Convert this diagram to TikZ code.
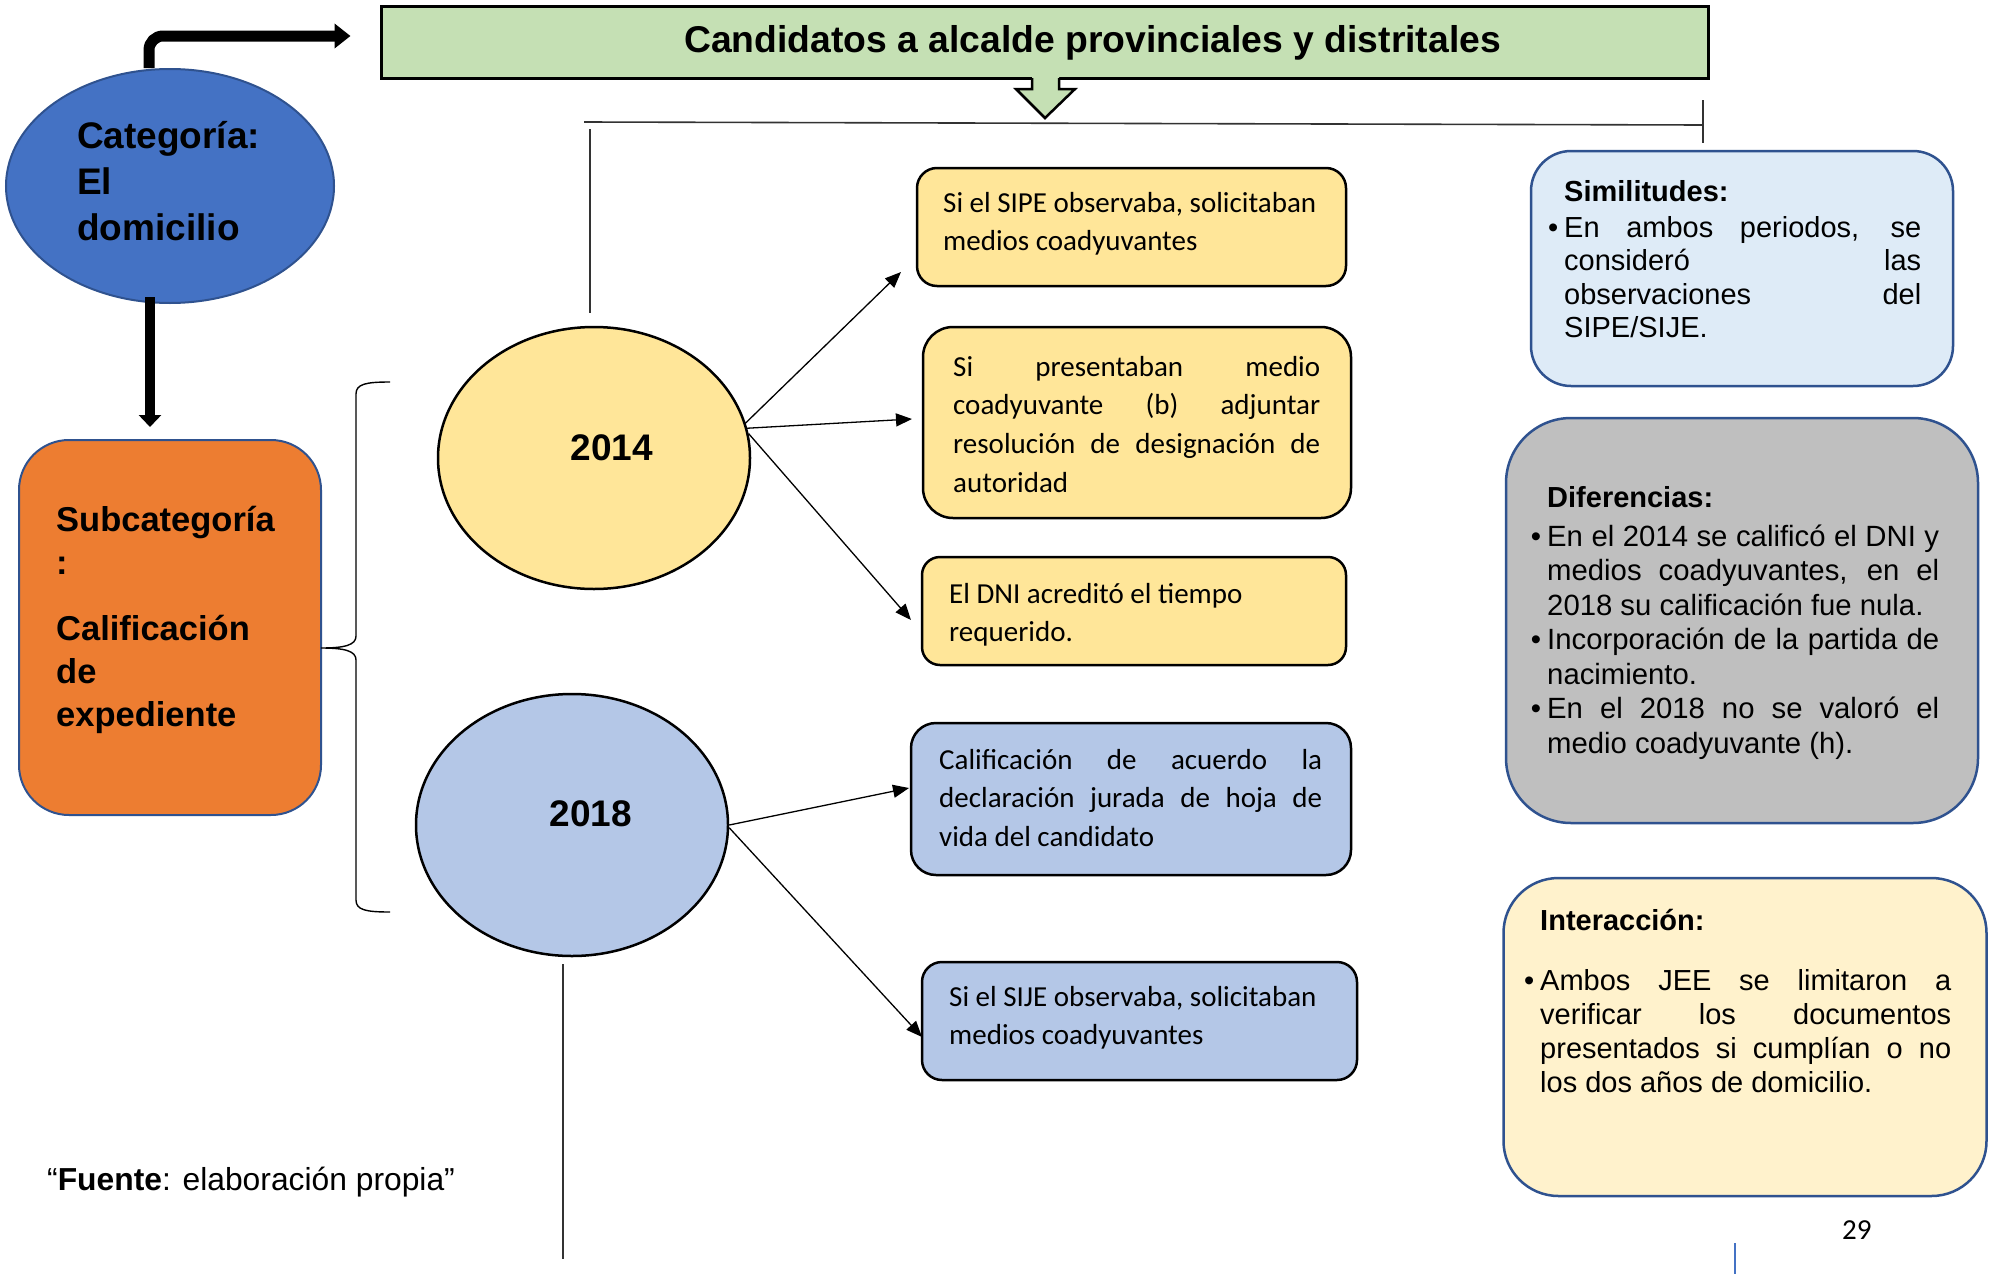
\documentclass[tikz,border=0pt]{standalone}
\usepackage{fontspec}
\setmainfont{Liberation Sans}
\newfontfamily\calib{Carlito}
\usetikzlibrary{arrows.meta,shapes.geometric}
\definecolor{cGreen}{HTML}{C5E0B4}
\definecolor{cBlue}{HTML}{4472C4}
\definecolor{cDark}{HTML}{2F528F}
\definecolor{cOrange}{HTML}{ED7D31}
\definecolor{cYellow}{HTML}{FFE699}
\definecolor{cLBlue}{HTML}{B4C7E7}
\definecolor{cSim}{HTML}{DEEBF7}
\definecolor{cGray}{HTML}{BFBFBF}
\definecolor{cCream}{HTML}{FFF2CC}
\newcommand\myfs[2]{\fontsize{#1}{#2}\selectfont}
\newcommand\jline[2]{\makebox[#1][s]{#2}}
\newcommand\bul{\llap{•\kern6pt}}
\begin{document}
\begin{tikzpicture}[x=1pt,y=-1pt,
  cbox/.style={rectangle, draw=black, line width=2.5pt, inner sep=0pt},
  ybox/.style={cbox, fill=cYellow},
  bbox/.style={cbox, fill=cLBlue},
  rbox/.style={rectangle, draw=cDark, line width=2.5pt, inner sep=0pt},
  oval/.style={ellipse, draw=black, line width=2.5pt, inner sep=0pt},
  txt/.style={anchor=base west, align=left, inner sep=0pt},
  ctxt/.style={txt, font=\calib\myfs{29}{38.7}},
  conn/.style={line width=1.3pt, -{Triangle[length=16pt 0,width=13pt 0]}},
  thin/.style={line width=1.6pt, draw=black!80}
]
% note: for multi-line nodes, anchor=base is the baseline of the LAST line
\useasboundingbox (0,0) rectangle (1994,1274);
\fill[white] (0,0) rectangle (1994,1274);

% title
\node[cbox, line width=3pt, fill=cGreen, minimum width=1327pt, minimum height=72pt] (title) at (1044.5,42) {};
\node[txt, font=\bfseries\myfs{37.3}{44}] (ttltext) at (684,52) {Candidatos a alcalde provinciales y distritales};
\fill[cGreen] (1032,74) -- (1032,89) -- (1016,89) -- (1045,118) -- (1075,89) -- (1059,89) -- (1059,74) -- cycle;
\draw[line width=2.5pt, line join=miter] (1032,78) -- (1032,89) -- (1016,89) -- (1045,118) -- (1075,89) -- (1059,89) -- (1059,78);

% top lines
\draw[thin] (584,122) -- (1703,125);
\draw[thin] (1703,100) -- (1703,143);
\draw[thin] (590,129) -- (590,313);
\draw[thin] (563,964) -- (563,1259);
\draw[line width=1.6pt, cBlue] (1735,1243) -- (1735,1274);

% category
\node[ellipse, draw=cDark, line width=2pt, fill=cBlue, inner sep=0pt, minimum width=328pt, minimum height=234pt] (cat) at (170,186) {};
\node[txt, font=\bfseries\myfs{37}{46}] (cattext) at (77,240) {Categoría:\\El\\domicilio};

% subcategory
\node[rectangle, draw=cDark, line width=2pt, fill=cOrange, rounded corners=50pt, minimum width=302pt, minimum height=375pt] (sub) at (170,627.5) {};
\node[txt, font=\bfseries\myfs{34.5}{43}] (subtext1) at (56,574) {Subcategoría\\:};
\node[txt, font=\bfseries\myfs{34.5}{43}] (subtext2) at (56,726) {Calificación\\de\\expediente};

% arrows from category
\draw[line width=11pt, rounded corners=14pt, -{Triangle[length=16pt 0,width=24pt 0]}, shorten >=29pt]
  ([xshift=-21pt]cat.north) |- ([yshift=6pt]title.west);
\draw[line width=9.5pt, -{Triangle[length=12pt 0,width=22pt 0]}, shorten <=-7pt, shorten >=12pt]
  ([xshift=-20pt]cat.south) -- ([xshift=-20pt]sub.north);

% brace
\draw[line width=1.4pt] (390,382) .. controls (366,382) and (356,384) .. (356,394) -- (356,636)
  .. controls (356,645) and (345,648) .. (321,648) .. controls (345,648) and (356,651) .. (356,660)
  -- (356,900) .. controls (356,910) and (366,912) .. (390,912);

% year ellipses
\node[oval, fill=cYellow, minimum width=312pt, minimum height=262pt] (e2014) at (594,458) {};
\node[anchor=base, inner sep=0pt, font=\bfseries\myfs{37}{44}] (y2014) at (612,460) {2014};
\node[oval, fill=cLBlue, minimum width=312pt, minimum height=262pt] (e2018) at (572,825) {};
\node[anchor=base, inner sep=0pt, font=\bfseries\myfs{37}{44}] (y2018) at (591,826) {2018};

% 2014 boxes
\node[ybox, rounded corners=20pt, minimum width=429pt, minimum height=118pt] (boxA) at (1131.5,227) {};
\node[ctxt] (tA) at (943,250.7) {Si el SIPE observaba, solicitaban\\medios coadyuvantes};
\node[ybox, rounded corners=30pt, minimum width=428pt, minimum height=191pt] (boxB) at (1137,422.5) {};
\node[ctxt] (tB) at (953,492.1) {\jline{367pt}{Si presentaban medio}\\\jline{367pt}{coadyuvante (b) adjuntar}\\\jline{367pt}{resolución de designación de}\\autoridad};
\node[ybox, rounded corners=18pt, minimum width=424pt, minimum height=108pt] (boxC) at (1134,611) {};
\node[ctxt] (tC) at (949,641.7) {El DNI acreditó el tiempo\\requerido.};

% 2018 boxes
\node[bbox, rounded corners=25pt, minimum width=440pt, minimum height=152pt] (boxD) at (1131,799) {};
\node[ctxt] (tD) at (939,846.4) {\jline{383pt}{Calificación de acuerdo la}\\\jline{383pt}{declaración jurada de hoja de}\\vida del candidato};
\node[bbox, rounded corners=20pt, minimum width=435pt, minimum height=118pt] (boxE) at (1139.5,1021) {};
\node[ctxt] (tE) at (949,1044.7) {Si el SIJE observaba, solicitaban\\medios coadyuvantes};

% connectors
\coordinate (t1) at (901,272);
\coordinate (t2) at (912,419);
\coordinate (t3) at (911,620);
\coordinate (t4) at (909,788);
\coordinate (t5) at (922,1037);
\draw[conn] (e2014.13) -- (t1);
\draw[conn] (e2014.11) -- (t2);
\draw[conn] (e2014.9) -- (t3);
\draw[conn] (e2018.east) -- (t4);
\draw[conn] (e2018.359) -- (t5);

% right column
\node[rbox, fill=cSim, rounded corners=40pt, minimum width=422pt, minimum height=235pt] (sim) at (1742,268.5) {};
\node[txt, font=\bfseries\myfs{29}{34}] (simT) at (1564,201) {Similitudes:};
\node[txt, font=\myfs{29}{33.5}] (simL) at (1564,337.5) {\bul\jline{357pt}{En ambos periodos, se}\\\jline{357pt}{consideró las}\\\jline{357pt}{observaciones del}\\SIPE/SIJE.};

\node[rbox, fill=cGray, rounded corners=65pt, minimum width=472pt, minimum height=405pt] (dif) at (1742,620.5) {};
\node[txt, font=\bfseries\myfs{29}{34}] (difT) at (1547,507) {Diferencias:};
\node[txt, font=\myfs{29.3}{34.5}] (difL) at (1547,753) {\bul\jline{392pt}{En el 2014 se calificó el DNI y}\\\jline{392pt}{medios coadyuvantes, en el}\\2018 su calificación fue nula.\\\bul\jline{392pt}{Incorporación de la partida de}\\nacimiento.\\\bul\jline{392pt}{En el 2018 no se valoró el}\\medio coadyuvante (h).};

\node[rbox, fill=cCream, rounded corners=55pt, minimum width=483pt, minimum height=318pt] (int) at (1745,1037) {};
\node[txt, font=\bfseries\myfs{29}{34}] (intT) at (1540,930) {Interacción:};
\node[txt, font=\myfs{29}{34}] (intL) at (1540,1092) {\bul\jline{411pt}{Ambos JEE se limitaron a}\\\jline{411pt}{verificar los documentos}\\\jline{411pt}{presentados si cumplían o no}\\los dos años de domicilio.};

% footer
\node[txt, font=\myfs{31.8}{36}] (src) at (47,1190) {“\textbf{Fuente}: elaboración propia”};
\node[txt, font=\calib\myfs{29}{34}] (pg) at (1842,1239) {29};
\end{tikzpicture}
\end{document}
